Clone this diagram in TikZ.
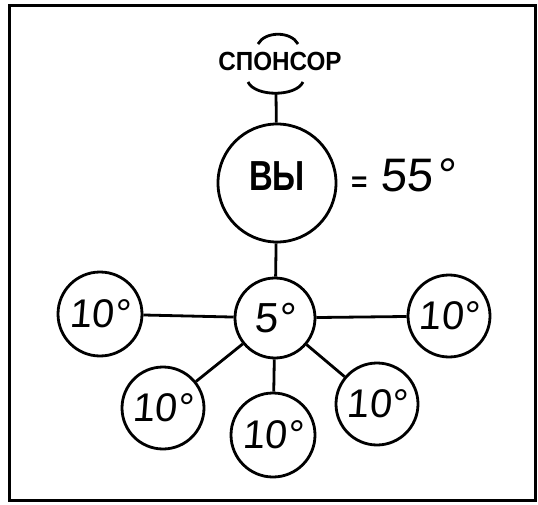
\documentclass[tikz,border=0pt]{standalone}
\usepackage{fontspec}
\setmainfont{Liberation Sans}
\newfontfamily\hand[FakeSlant=0.08]{Liberation Sans}
\begin{document}
\begin{tikzpicture}[x=1pt,y=-1pt,
  bub/.style={circle, draw, inner sep=0pt, line width=2.8pt},
  link/.style={line width=2.8pt},
  num/.style={font=\hand\fontsize{40}{40}\selectfont}]
\useasboundingbox (0,0) rectangle (538,505);
\draw[line width=3pt] (9,6) rectangle (535,500);

% sponsor
\node[font=\fontsize{25}{25}\selectfont\bfseries] (sp) at (280,61) {\scalebox{0.97}[1.05]{СПОНСОР}};
\draw[link] (258,44) .. controls (265,31) and (291,31) .. (298,44);
\draw[link] (248,82) .. controls (255,97) and (296,97) .. (303,82);
\coordinate (cup) at (276,93);

% you
\node[bub, minimum size=118pt] (vy) at (277,183)
  {\raisebox{-8pt}[0pt][0pt]{\scalebox{0.82}[1.05]{\fontsize{40}{40}\selectfont\bfseries ВЫ}}};
\node[anchor=west, inner sep=0pt] (eq) at (351,175)
  {{\fontsize{28}{28}\selectfont\bfseries =}\hspace{13pt}{\hand\fontsize{47}{47}\selectfont 55\hspace{4pt}°}};

% center
\node[bub, minimum size=80pt, font=\hand\fontsize{42}{42}\selectfont] (c5) at (275,318) {5°};

% children
\node[bub, minimum size=84pt, num] (l)  at (100,314) {10°};
\node[bub, minimum size=82pt, num] (r)  at (449,316) {10°};
\node[bub, minimum size=82pt, num] (bl) at (163,408) {10°};
\node[bub, minimum size=84pt, num] (bm) at (273,435) {10°};
\node[bub, minimum size=82pt, num] (br) at (377,404) {10°};

% connectors
\draw[link] (cup) -- (vy);
\draw[link] (vy) -- (c5);
\draw[link] (c5) -- (l);
\draw[link] (c5) -- (r);
\draw[link] (c5) -- (bl);
\draw[link] (c5) -- (bm);
\draw[link] (c5) -- (br);
\end{tikzpicture}
\end{document}
